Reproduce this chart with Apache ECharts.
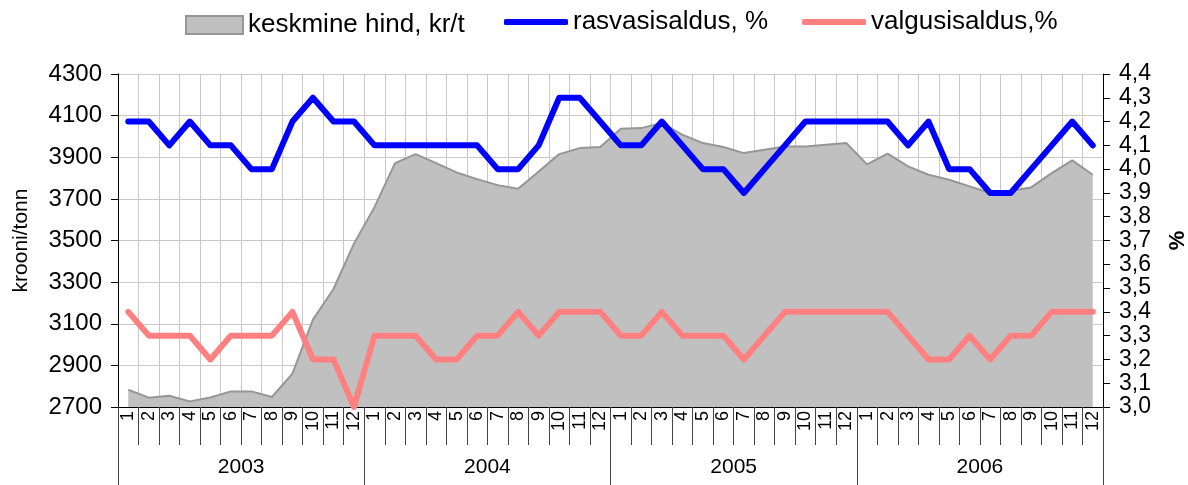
<!DOCTYPE html>
<html lang="et">
<head>
<meta charset="UTF-8">
<title>Piim</title>
<script src="https://cdn.jsdelivr.net/npm/echarts@6/dist/echarts.min.js"></script>
<style>
  html, body { margin: 0; padding: 0; background: #fff; }
  #main { width: 1188px; height: 485px; }
</style>
</head>
<body>
<div id="main"></div>
<script>
// kuud ja aastad
var months = [];
for (var y = 0; y < 4; y++) {
    for (var m = 1; m <= 12; m++) months.push(String(m));
}
var years = ['2003', '2004', '2005', '2006'];

// keskmine hind, kr/t
var price = [
    2783, 2745, 2754, 2727, 2746, 2775, 2775, 2748, 2860, 3120, 3267, 3485,
    3660, 3872, 3915, 3872, 3827, 3795, 3766, 3749, 3832, 3915, 3944, 3949,
    4037, 4040, 4065, 4008, 3968, 3949, 3920, 3936, 3952, 3952, 3960, 3968,
    3866, 3917, 3856, 3816, 3792, 3760, 3728, 3739, 3755, 3824, 3885, 3816
];
// rasvasisaldus, %
var fat = [
    4.2, 4.2, 4.1, 4.2, 4.1, 4.1, 4.0, 4.0, 4.2, 4.3, 4.2, 4.2,
    4.1, 4.1, 4.1, 4.1, 4.1, 4.1, 4.0, 4.0, 4.1, 4.3, 4.3, 4.2,
    4.1, 4.1, 4.2, 4.1, 4.0, 4.0, 3.9, 4.0, 4.1, 4.2, 4.2, 4.2,
    4.2, 4.2, 4.1, 4.2, 4.0, 4.0, 3.9, 3.9, 4.0, 4.1, 4.2, 4.1
];
// valgusisaldus, %
var protein = [
    3.4, 3.3, 3.3, 3.3, 3.2, 3.3, 3.3, 3.3, 3.4, 3.2, 3.2, 3.0,
    3.3, 3.3, 3.3, 3.2, 3.2, 3.3, 3.3, 3.4, 3.3, 3.4, 3.4, 3.4,
    3.3, 3.3, 3.4, 3.3, 3.3, 3.3, 3.2, 3.3, 3.4, 3.4, 3.4, 3.4,
    3.4, 3.4, 3.3, 3.2, 3.2, 3.3, 3.2, 3.3, 3.3, 3.4, 3.4, 3.4
];

var font = 'Liberation Sans, Arial, sans-serif';
var myChart = echarts.init(document.getElementById('main'));

var option = {
    animation: false,
    textStyle: {fontFamily: font},
    grid: {left: 118, right: 85, top: 74, bottom: 78, outerBoundsMode: 'none', containLabel: false},
    legend: [
        {left: 180, top: 7, itemWidth: 57, itemHeight: 18, icon: 'rect', itemGap: 6,
            textStyle: {fontSize: 26, color: '#000', fontFamily: font},
            data: ['keskmine hind, kr/t']},
        {left: 499, top: 4, itemWidth: 64, itemHeight: 6, itemGap: 34, icon: 'roundRect',
            textStyle: {fontSize: 26, color: '#000', fontFamily: font},
            data: ['rasvasisaldus, %', 'valgusisaldus,%']}
    ],
    xAxis: [
        {type: 'category', data: months, boundaryGap: true, position: 'bottom',
            axisLine: {show: true, lineStyle: {color: '#000'}},
            axisTick: {show: true, interval: 0, length: 38, lineStyle: {color: '#444'}},
            axisLabel: {interval: 0, rotate: 90, margin: 4, fontSize: 18, color: '#000', fontFamily: font},
            splitLine: {show: true, interval: 0, lineStyle: {color: '#c8c8c8', width: 1}}},
        {type: 'category', data: years, boundaryGap: true, position: 'bottom',
            axisLine: {show: false},
            axisTick: {show: true, interval: 0, length: 78, lineStyle: {color: '#444'}},
            axisLabel: {interval: 0, margin: 50, fontSize: 21, color: '#000', fontFamily: font}}
    ],
    yAxis: [
        {type: 'value', min: 2700, max: 4300, interval: 200, position: 'left',
            name: 'krooni/tonn', nameLocation: 'middle', nameGap: 86, nameRotate: 90,
            nameTextStyle: {fontSize: 21, color: '#000', fontFamily: font},
            axisLine: {show: true, lineStyle: {color: '#000'}},
            axisTick: {show: true, length: 7, lineStyle: {color: '#000'}},
            axisLabel: {fontSize: 24, color: '#000', margin: 16, fontFamily: font,
                formatter: function (v) { return String(v); }},
            splitLine: {show: true, lineStyle: {color: '#c8c8c8', width: 1}}},
        {type: 'value', min: 3.0, max: 4.4, interval: 0.1, position: 'right',
            name: '%', nameLocation: 'middle', nameGap: 64, nameRotate: 90,
            nameTextStyle: {fontSize: 22, fontWeight: 'bold', color: '#000', fontFamily: font},
            axisLine: {show: true, lineStyle: {color: '#000'}},
            axisTick: {show: true, length: 7, lineStyle: {color: '#000'}},
            axisLabel: {fontSize: 23, color: '#000', margin: 16, fontFamily: font,
                formatter: function (v) { return v.toFixed(1).replace('.', ','); }},
            splitLine: {show: false}}
    ],
    series: [
        {name: 'keskmine hind, kr/t', type: 'line', yAxisIndex: 0, data: price,
            symbol: 'none', z: 1,
            lineStyle: {color: '#969696', width: 2},
            itemStyle: {color: '#c0c0c0', borderColor: '#969696', borderWidth: 2},
            areaStyle: {color: '#c0c0c0', opacity: 1}},
        {name: 'rasvasisaldus, %', type: 'line', yAxisIndex: 1, data: fat,
            symbol: 'none', z: 3,
            lineStyle: {color: '#0000ff', width: 6, cap: 'round', join: 'round'},
            itemStyle: {color: '#0000ff'}},
        {name: 'valgusisaldus,%', type: 'line', yAxisIndex: 1, data: protein,
            symbol: 'none', z: 3,
            lineStyle: {color: '#ff8080', width: 6, cap: 'round', join: 'round'},
            itemStyle: {color: '#ff8080'}}
    ]
};

myChart.setOption(option);
</script>
</body>
</html>
